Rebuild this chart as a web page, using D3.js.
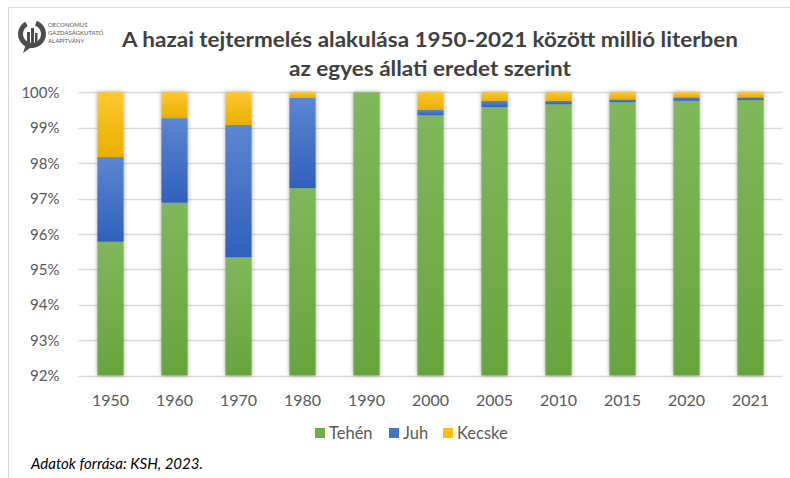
<!DOCTYPE html>
<html>
<head>
<meta charset="utf-8">
<script src="https://cdn.jsdelivr.net/npm/d3@7"></script>
<style>
  body { margin: 0; background: #fff; }
  svg { display: block; font-family: Lato, 'Open Sans', sans-serif; }
</style>
</head>
<body>
<div id="chart"></div>
<script>
// chart data
const years = ['1950', '1960', '1970', '1980', '1990', '2000', '2005', '2010', '2015', '2020', '2021'];
const tehen = [95.78, 96.88, 95.34, 97.29, 100, 99.35, 99.58, 99.66, 99.72, 99.76, 99.78];
const juh = [2.39, 2.39, 3.74, 2.56, 0, 0.15, 0.18, 0.10, 0.08, 0.10, 0.08];
const kecske = [1.83, 0.73, 0.92, 0.15, 0, 0.50, 0.24, 0.24, 0.20, 0.14, 0.14];
const seriesNames = ['Tehén', 'Juh', 'Kecske'];
const yTicks = [92, 93, 94, 95, 96, 97, 98, 99, 100];

const width = 790;
const height = 478;
const margin = { top: 92, right: 7.5, bottom: 102.5, left: 78.5 };

const colors = {
  'Tehén': ['#80b75c', '#67a53c'],
  'Juh': ['#5b86d1', '#2f60bc'],
  'Kecske': ['#ffc72f', '#e9b000'],
};
const legendColors = { 'Tehén': '#70ad47', 'Juh': '#4472c4', 'Kecske': '#ffc000' };

const rows = years.map((y, i) => ({
  year: y, 'Tehén': tehen[i], 'Juh': juh[i], 'Kecske': kecske[i],
}));

const svg = d3.select('#chart').append('svg')
  .attr('width', width)
  .attr('height', height);

const defs = svg.append('defs');
seriesNames.forEach((name, i) => {
  const grad = defs.append('linearGradient')
    .attr('id', `grad${i}`)
    .attr('x1', 0).attr('y1', 0).attr('x2', 0).attr('y2', 1);
  grad.append('stop').attr('offset', '0%').attr('stop-color', colors[name][0]);
  grad.append('stop').attr('offset', '100%').attr('stop-color', colors[name][1]);
});
const shadow = defs.append('filter').attr('id', 'shadow')
  .attr('x', '-40%').attr('y', '-5%').attr('width', '180%').attr('height', '110%');
shadow.append('feDropShadow')
  .attr('dx', 0).attr('dy', 0).attr('stdDeviation', 2)
  .attr('flood-color', '#000').attr('flood-opacity', 0.35);

// outer frame
svg.append('rect')
  .attr('x', 8.5).attr('y', 7.5)
  .attr('width', width).attr('height', height)
  .attr('fill', 'none').attr('stroke', '#d9d9d9');

// logo
const logo = svg.append('g').attr('transform', 'translate(32,34)');
logo.append('path')
  .attr('d', d3.arc().innerRadius(9).outerRadius(14).startAngle(0.35).endAngle(2 * Math.PI - 0.5)())
  .attr('fill', '#4d4d4d');
logo.append('path')
  .attr('d', 'M-6,10 L-9,19 L1,12 Z')
  .attr('fill', '#4d4d4d');
[[-5, -2, 3, 11], [-1, -6, 3, 15], [3, -1, 2.5, 10]].forEach(b => {
  logo.append('rect').attr('x', b[0]).attr('y', b[1]).attr('width', b[2]).attr('height', b[3])
    .attr('fill', '#4d4d4d');
});
['OECONOMUS', 'GAZDASÁGKUTATÓ', 'ALAPÍTVÁNY'].forEach((t, i) => {
  svg.append('text')
    .attr('x', 48).attr('y', 27 + i * 8)
    .attr('font-size', 6)
    .attr('fill', '#555')
    .text(t);
});

// title
const titleLines = ['A hazai tejtermelés alakulása 1950-2021 között millió literben', 'az egyes állati eredet szerint'];
const titleWidths = [616, 282];
titleLines.forEach((t, i) => {
  svg.append('text')
    .attr('x', 430).attr('y', 47 + i * 29)
    .attr('text-anchor', 'middle')
    .attr('font-size', 21)
    .attr('font-weight', 'bold')
    .attr('fill', '#404040')
    .attr('textLength', titleWidths[i])
    .attr('lengthAdjust', 'spacingAndGlyphs')
    .text(t);
});

const x = d3.scaleBand()
  .domain(years)
  .range([margin.left, width - margin.right])
  .paddingInner(0.59)
  .paddingOuter(0.295);

const y = d3.scaleLinear()
  .domain([92, 100])
  .range([height - margin.bottom, margin.top + 0.3])
  .clamp(true);

// gridlines
svg.append('g')
  .selectAll('line')
  .data(yTicks)
  .join('line')
  .attr('x1', margin.left)
  .attr('x2', width - margin.right)
  .attr('y1', d => Math.round(y(d)) + 0.5)
  .attr('y2', d => Math.round(y(d)) + 0.5)
  .attr('stroke', '#d9d9d9')
  .attr('stroke-width', 1.3);

// y axis labels
const yAxis = svg.append('g')
  .attr('transform', `translate(${margin.left - 16},0)`)
  .call(d3.axisLeft(y).tickValues(yTicks).tickSize(0).tickFormat(d => `${d}%`));
yAxis.select('.domain').remove();
yAxis.selectAll('text')
  .attr('font-size', 15)
  .attr('font-family', 'Lato, sans-serif')
  .attr('fill', '#595959')
  .attr('dy', '0.35em');

// x axis labels
const xAxis = svg.append('g')
  .attr('transform', `translate(0,${height - margin.bottom + 16})`)
  .call(d3.axisBottom(x).tickSize(0));
xAxis.select('.domain').remove();
xAxis.selectAll('text')
  .attr('font-size', 16)
  .attr('font-family', 'Lato, sans-serif')
  .attr('fill', '#595959');

// stacked bars
const stack = d3.stack().keys(seriesNames);
const stacked = stack(rows);

const barGroups = svg.append('g').attr('class', 'bars');
rows.forEach((row, j) => {
  const g = barGroups.append('g').attr('filter', 'url(#shadow)');
  stacked.forEach((layer, i) => {
    const d = layer[j];
    const y0 = y(Math.max(d[0], 92));
    const y1 = y(d[1]);
    if (y0 - y1 <= 0) return;
    g.append('rect')
      .attr('x', x(row.year))
      .attr('width', x.bandwidth())
      .attr('y', y1)
      .attr('height', y0 - y1)
      .attr('fill', `url(#grad${i})`);
  });
});

// legend
const legendX = [315, 389, 443];
const legend = svg.append('g');
seriesNames.forEach((name, i) => {
  legend.append('rect')
    .attr('x', legendX[i]).attr('y', 428)
    .attr('width', 10).attr('height', 10)
    .attr('fill', legendColors[name]);
  legend.append('text')
    .attr('x', legendX[i] + 14).attr('y', 439)
    .attr('font-size', 16.5)
    .attr('fill', '#595959')
    .text(name);
});

// source
svg.append('text')
  .attr('x', 31).attr('y', 469)
  .attr('font-size', 15)
  .attr('font-style', 'italic')
  .attr('fill', '#000')
  .text('Adatok forrása: KSH, 2023.');
</script>
</body>
</html>
